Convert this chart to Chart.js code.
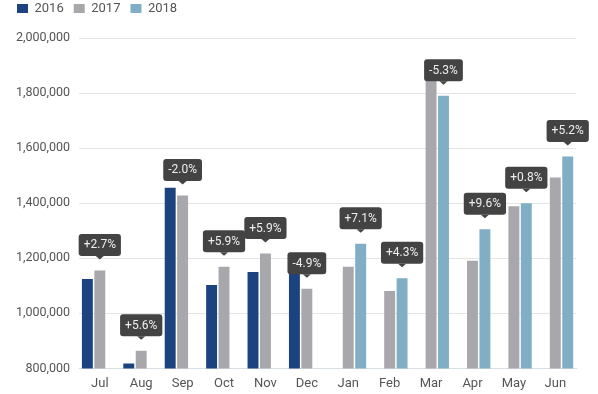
<!DOCTYPE html>
<html lang="en">
<head>
    <meta charset="UTF-8">
    <title>Monthly comparison</title>
    <script src="https://cdn.jsdelivr.net/npm/chart.js"></script>
    <style>
        body {
            margin: 0;
            background: #fff;
            font-family: 'Roboto', sans-serif;
        }
        .chart-container {
            width: 598px;
            height: 394px;
        }
    </style>
</head>
<body>
    <div class="chart-container">
        <canvas id="salesChart"></canvas>
    </div>

    <script>
        const months = ['Jul', 'Aug', 'Sep', 'Oct', 'Nov', 'Dec', 'Jan', 'Feb', 'Mar', 'Apr', 'May', 'Jun'];
        const y2016 = [1125000, 818000, 1456000, 1103000, 1150000, 1145000, null, null, null, null, null, null];
        const y2017 = [1156000, 864000, 1428000, 1169000, 1217000, 1089000, 1169000, 1081000, 1890000, 1191000, 1389000, 1493000];
        const y2018 = [null, null, null, null, null, null, 1253000, 1127000, 1790000, 1305000, 1400000, 1570000];
        const changes = ['+2.7%', '+5.6%', '-2.0%', '+5.9%', '+5.9%', '-4.9%', '+7.1%', '+4.3%', '-5.3%', '+9.6%', '+0.8%', '+5.2%'];
        const yTicks = [800000, 1000000, 1200000, 1400000, 1600000, 1800000, 2000000];

        // change badges sit over the current-year bar of each month
        const badges = {
            id: 'badges',
            afterDatasetsDraw(chart) {
                const ctx = chart.ctx;
                ctx.save();
                ctx.font = '12px Roboto';
                ctx.textAlign = 'center';
                ctx.textBaseline = 'middle';
                changes.forEach((txt, i) => {
                    const ds = i < 6 ? 1 : 2;
                    const bar = chart.getDatasetMeta(ds).data[i];
                    const x = bar.x;
                    const tip = bar.y - 11;
                    const w = ctx.measureText(txt).width + 10;
                    const h = 22;
                    const top = tip - 3.5 - h;
                    ctx.fillStyle = '#434343';
                    ctx.beginPath();
                    ctx.roundRect(x - w / 2, top, w, h, 3);
                    ctx.fill();
                    ctx.beginPath();
                    ctx.moveTo(x - 4, top + h);
                    ctx.lineTo(x + 4, top + h);
                    ctx.lineTo(x, tip);
                    ctx.closePath();
                    ctx.fill();
                    ctx.fillStyle = '#eeeeee';
                    ctx.fillText(txt, x, top + h / 2 + 0.5);
                });
                ctx.restore();
            }
        };

        const ctx = document.getElementById('salesChart').getContext('2d');
        new Chart(ctx, {
            type: 'bar',
            data: {
                labels: months,
                datasets: [
                    { label: '2016', data: y2016, backgroundColor: '#1c4380' },
                    { label: '2017', data: y2017, backgroundColor: '#a8a8ac' },
                    { label: '2018', data: y2018, backgroundColor: '#80afc5' }
                ]
            },
            options: {
                responsive: true,
                maintainAspectRatio: false,
                animation: false,
                categoryPercentage: 0.9,
                barPercentage: 0.88,
                layout: { padding: { left: 7, right: 22, top: -8, bottom: 2 } },
                plugins: {
                    tooltip: { enabled: false },
                    legend: {
                        position: 'top',
                        align: 'start',
                        labels: {
                            boxWidth: 11,
                            boxHeight: 9,
                            padding: 10,
                            color: '#555',
                            font: { family: 'Roboto', size: 13 }
                        }
                    }
                },
                scales: {
                    x: {
                        grid: { display: false },
                        border: { color: '#d8e0e4' },
                        ticks: {
                            color: '#555',
                            padding: 0,
                            font: { family: 'Roboto', size: 13 }
                        }
                    },
                    y: {
                        min: yTicks[0],
                        max: yTicks[yTicks.length - 1],
                        afterBuildTicks: (axis) => {
                            axis.ticks = yTicks.map(v => ({ value: v }));
                        },
                        grid: { color: '#e4e4e4', drawTicks: false },
                        border: { display: false },
                        ticks: {
                            color: '#555',
                            padding: 9,
                            font: { family: 'Roboto', size: 12.5 },
                            callback: (v) => v.toLocaleString('en-US')
                        }
                    }
                }
            },
            plugins: [badges, {
                id: 'legendGap',
                beforeInit(chart) {
                    const fit = chart.legend.fit;
                    chart.legend.fit = function () {
                        fit.bind(chart.legend)();
                        this.height += 13;
                    };
                }
            }]
        });
    </script>
</body>
</html>
